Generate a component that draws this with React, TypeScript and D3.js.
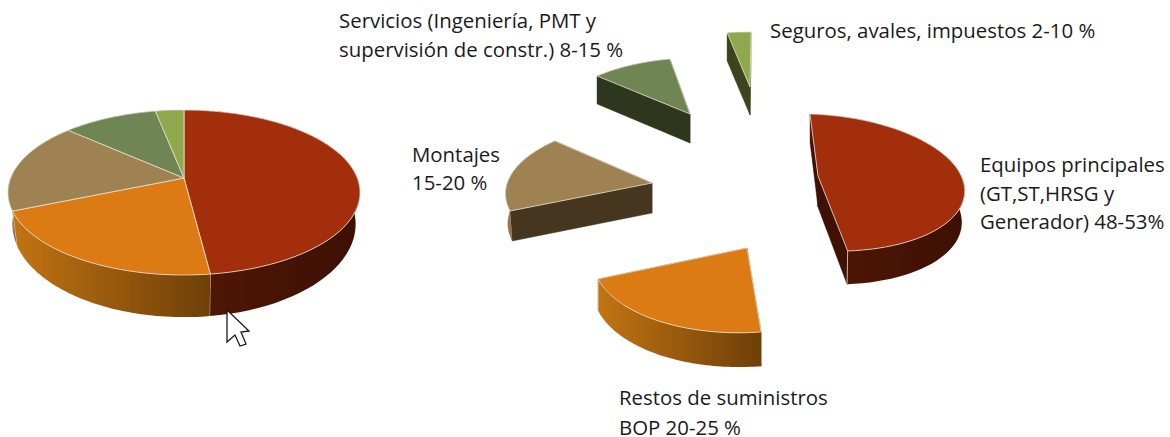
import React from "react";
import * as d3 from "d3";

// ---- data ----
const sliceNames = ["Equipos principales", "Restos de suministros", "Montajes", "Servicios", "Seguros"];
const sliceValues = [48, 20.7, 17.9, 10.3, 3.1];

// ---- styles ----
const topColors = ["#a32e0c", "#dc7b14", "#9e8252", "#6f8553", "#90a84c"];
const wallFrom = ["#521705", "#c27412", "#96794c", "#2e361d", "#3c441c"];
const wallTo = ["#3d1004", "#6e3f08", "#7d683f", "#2e361d", "#3c441c"];
const faceColors = ["#3f1105", "#6e3f08", "#463620", "#2e361d", "#3c441c"];
const edgeColor = "#e6dfd0";

// ---- layout: each disc is the projective image of a unit circle ----
type Proj = { ax: number; ay: number; m11: number; m12: number; m21: number; m22: number; k: number; depth: number; sx: number; sy: number };
const wholePie: Proj = { ax: 184, ay: 178, m11: 173.3, m12: 0, m21: 0, m22: 79.95, k: 0.1758, depth: 29.8, sx: 0.975, sy: 1.127 };
const explodedPies: Proj[] = [
  { ax: 818, ay: 176, m11: 145, m12: 8.76, m21: 4.3, m22: 67.9, k: 0.095, depth: 31, sx: 0.98, sy: 1.03 },
  { ax: 747, ay: 248, m11: 152.5, m12: -6.44, m21: -0.41, m22: 76.3, k: 0.1, depth: 30, sx: 1, sy: 1.05 },
  { ax: 652, ay: 183, m11: 145, m12: -6.7, m21: -0.67, m22: 68.1, k: 0.1, depth: 30, sx: 0.985, sy: 1 },
  { ax: 690, ay: 114, m11: 137, m12: -4.7, m21: -0.8, m22: 61.7, k: 0.1, depth: 29, sx: 1, sy: 1.03 },
  { ax: 750, ay: 87, m11: 135, m12: -1.1, m21: 0, m22: 60.5, k: 0.1, depth: 28, sx: 1, sy: 1 },
];

const labelFont = "'Open Sans', 'Noto Sans', sans-serif";
const labels: { x: number; y: number; gap: number; lines: string[] }[] = [
  { x: 339, y: 28, gap: 29, lines: ["Servicios (Ingeniería, PMT y", "supervisión de constr.) 8-15 %"] },
  { x: 770, y: 38, gap: 29, lines: ["Seguros, avales, impuestos 2-10 %"] },
  { x: 412, y: 162, gap: 28, lines: ["Montajes", "15-20 %"] },
  { x: 980, y: 172, gap: 28.7, lines: ["Equipos principales", "(GT,ST,HRSG y", "Generador) 48-53%"] },
  { x: 619, y: 405, gap: 29.5, lines: ["Restos de suministros", "BOP 20-25 %"] },
];

const cursorShape: [number, number][] = [[227, 310], [249, 331], [241, 332], [246, 344], [240, 346], [235, 335], [227, 342]];

// ---- geometry helpers ----
type Pt = [number, number];
const top = (p: Proj, th: number): Pt => {
  const X = Math.sin(th);
  const Z = -Math.cos(th);
  const w = 1 - p.k * Z;
  return [p.ax + (p.m11 * X + p.m12 * Z) / w, p.ay + (p.m21 * X + p.m22 * Z) / w];
};
const lower = (p: Proj, q: Pt): Pt => [p.ax + (q[0] - p.ax) * p.sx, p.ay + p.depth + (q[1] - p.ay) * p.sy];
const line = d3.line<Pt>();
const arcPts = (p: Proj, a0: number, a1: number): Pt[] =>
  d3.range(0, 61).map((i) => top(p, a0 + ((a1 - a0) * i) / 60));

const arcs = d3.pie<number>().sort(null)(sliceValues);

function Slice({ p, i, id, faces }: { p: Proj; i: number; id: string; faces: boolean }) {
  const a = arcs[i];
  const rim = arcPts(p, a.startAngle, a.endAngle);
  const apex: Pt = [p.ax, p.ay];
  const apexL = lower(p, apex);
  const rimL = rim.map((q) => lower(p, q));
  const first = rim[0];
  const last = rim[rim.length - 1];
  const xs = rim.map((q) => q[0]);
  const gid = `${id}-wall-${i}`;
  return (
    <g>
      <defs>
        <linearGradient id={gid} gradientUnits="userSpaceOnUse" x1={d3.min(xs)} x2={d3.max(xs)} y1={0} y2={0}>
          <stop offset="0" stopColor={wallFrom[i]} />
          <stop offset="1" stopColor={wallTo[i]} />
        </linearGradient>
      </defs>
      {faces && <path d={line([apex, first, lower(p, first), apexL])! + "Z"} fill={faceColors[i]} stroke={faceColors[i]} strokeWidth={0.5} />}
      {faces && <path d={line([apex, last, lower(p, last), apexL])! + "Z"} fill={faceColors[i]} stroke={faceColors[i]} strokeWidth={0.5} />}
      <path d={line([...rim, ...rimL.slice().reverse()])! + "Z"} fill={`url(#${gid})`} />
      <path d={line([last, lower(p, last)])!} stroke={edgeColor} strokeWidth={1} opacity={0.75} fill="none" />
    </g>
  );
}

function SliceTop({ p, i }: { p: Proj; i: number }) {
  const a = arcs[i];
  const rim = arcPts(p, a.startAngle, a.endAngle);
  return (
    <path
      d={line([[p.ax, p.ay], ...rim])! + "Z"}
      fill={topColors[i]}
      stroke={edgeColor}
      strokeWidth={1}
      strokeOpacity={0.8}
      strokeLinejoin="round"
    />
  );
}

export default function App() {
  return (
    <svg width={1170} height={437} style={{ position: "absolute", left: 0, top: 0, background: "#fff" }}>
      {/* whole pie */}
      <g>
        {sliceNames.map((n, i) => <Slice key={n} p={wholePie} i={i} id="whole" faces={false} />)}
        {sliceNames.map((n, i) => <SliceTop key={n} p={wholePie} i={i} />)}
      </g>
      {/* exploded slices */}
      {sliceNames.map((n, i) => (
        <g key={n}>
          <Slice p={explodedPies[i]} i={i} id="part" faces={true} />
          <SliceTop p={explodedPies[i]} i={i} />
        </g>
      ))}
      {/* pointer */}
      <path d={line(cursorShape)! + "Z"} fill="#fff" stroke="#1c1c1c" strokeWidth={1.3} strokeLinejoin="miter" />
      {/* labels */}
      {labels.map((l) => (
        <text key={l.lines[0]} x={l.x} y={l.y} fontFamily={labelFont} fontSize={20.4} fill="#1a1a1a">
          {l.lines.map((t, j) => (
            <tspan key={t} x={l.x} y={l.y + j * l.gap}>{t}</tspan>
          ))}
        </text>
      ))}
    </svg>
  );
}
